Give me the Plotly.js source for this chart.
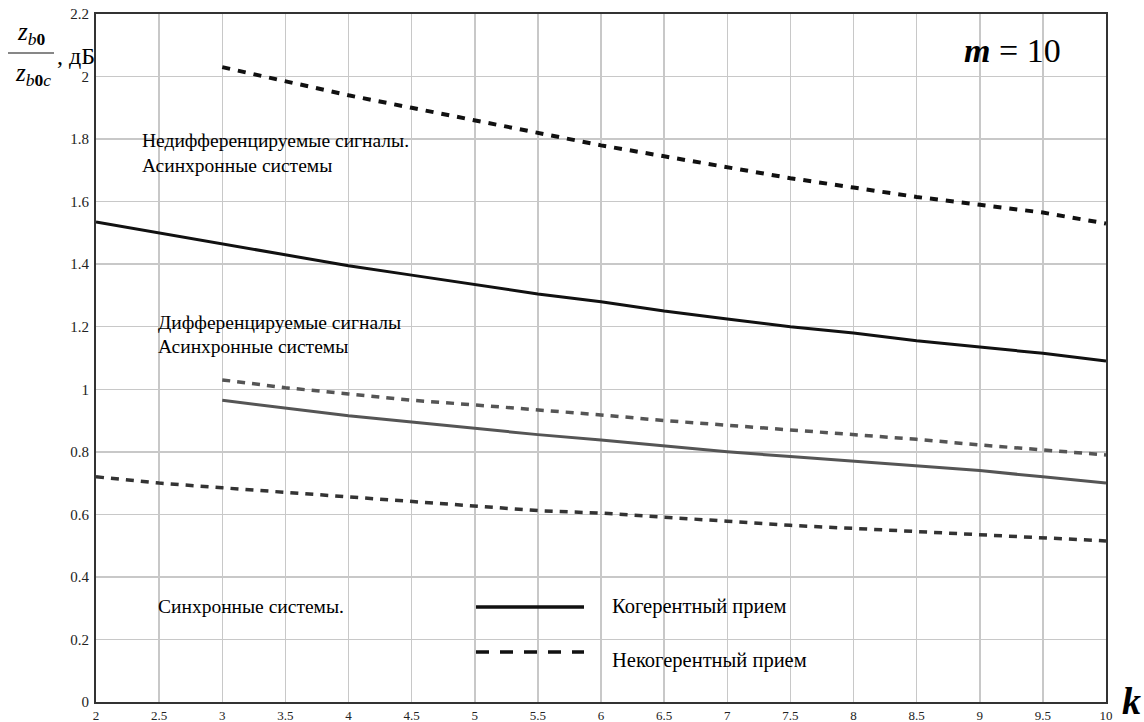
<!DOCTYPE html>
<html>
<head>
<meta charset="utf-8">
<script src="https://cdn.plot.ly/plotly-3.0.1.min.js"></script>
<style>html,body{margin:0;padding:0;background:#fff;}#chart{width:1144px;height:722px;}</style>
</head>
<body>
<div id="chart"></div>
<script>
// ---- data ----
const kFull = [2, 2.5, 3, 3.5, 4, 4.5, 5, 5.5, 6, 6.5, 7, 7.5, 8, 8.5, 9, 9.5, 10];
const kFrom3 = [3, 3.5, 4, 4.5, 5, 5.5, 6, 6.5, 7, 7.5, 8, 8.5, 9, 9.5, 10];

// Недифференцируемые сигналы, асинхронные системы
const nonDiffCoherent   = [1.535, 1.50, 1.465, 1.43, 1.395, 1.365, 1.335, 1.305, 1.28, 1.25, 1.225, 1.20, 1.18, 1.155, 1.135, 1.115, 1.09];
const nonDiffIncoherent = [2.03, 1.985, 1.94, 1.90, 1.86, 1.82, 1.78, 1.745, 1.71, 1.675, 1.645, 1.615, 1.59, 1.565, 1.53];
// Дифференцируемые сигналы, асинхронные системы
const diffCoherent      = [0.965, 0.94, 0.915, 0.895, 0.875, 0.855, 0.838, 0.82, 0.80, 0.785, 0.77, 0.755, 0.74, 0.72, 0.70];
const diffIncoherent    = [1.03, 1.005, 0.985, 0.965, 0.95, 0.935, 0.918, 0.90, 0.885, 0.87, 0.855, 0.84, 0.822, 0.806, 0.79];
// Синхронные системы
const syncIncoherent    = [0.72, 0.70, 0.685, 0.67, 0.655, 0.64, 0.625, 0.612, 0.604, 0.59, 0.578, 0.565, 0.555, 0.545, 0.537, 0.527, 0.515];

const xTickVals = [2, 2.5, 3, 3.5, 4, 4.5, 5, 5.5, 6, 6.5, 7, 7.5, 8, 8.5, 9, 9.5, 10];
const xTickText = ["2", "2.5", "3", "3.5", "4", "4.5", "5", "5.5", "6", "6.5", "7", "7.5", "8", "8.5", "9", "9.5", "10"];
const yTickVals = [0, 0.2, 0.4, 0.6, 0.8, 1, 1.2, 1.4, 1.6, 1.8, 2, 2.2];
const yTickText = ["0", "0.2", "0.4", "0.6", "0.8", "1", "1.2", "1.4", "1.6", "1.8", "2", "2.2"];

// ---- layout helpers (pixel -> paper) ----
const L = 96, R = 1106, T = 14, B = 702;
const px = x => (x - L) / (R - L);
const py = y => (B - y) / (B - T);
const serif = "'Liberation Serif', 'DejaVu Serif', serif";

const traces = [
  {x: kFull, y: nonDiffCoherent, mode: 'lines', line: {color: '#111', width: 3}},
  {x: kFrom3, y: nonDiffIncoherent, mode: 'lines', line: {color: '#111', width: 4, dash: '8px,8px'}},
  {x: kFrom3, y: diffCoherent, mode: 'lines', line: {color: '#555', width: 3}},
  {x: kFrom3, y: diffIncoherent, mode: 'lines', line: {color: '#555', width: 3.5, dash: '8px,7px'}},
  {x: kFull, y: syncIncoherent, mode: 'lines', line: {color: '#333', width: 3.5, dash: '8px,7px'}}
];

function txt(text, x, y, size, xanchor, opts) {
  return Object.assign({
    text: text, xref: 'paper', yref: 'paper', x: px(x), y: py(y),
    xanchor: xanchor || 'left', yanchor: 'middle', showarrow: false,
    font: {family: serif, size: size, color: '#000'}
  }, opts || {});
}

const annotations = [
  txt('Недифференцируемые сигналы.', 140, 140, 19.5),
  txt('Асинхронные системы', 140, 166, 19.5),
  txt('Дифференцируемые сигналы', 156, 322, 19.5),
  txt('Асинхронные системы', 156, 346, 19.5),
  txt('Синхронные системы.', 156, 606, 19.5),
  txt('Когерентный прием', 610, 606, 20.5),
  txt('Некогерентный прием', 610, 660, 20.5),
  txt('<b><i>m</i></b> = 10', 1012, 51, 34, 'center'),
  txt('<b><i>k</i></b>', 1131, 701, 38, 'center'),
  txt('<i>z</i><sub><i>b</i><b>0</b></sub>', 31, 33, 25, 'center'),
  txt('<i>z</i><sub><i>b</i><b>0</b><i>c</i></sub>', 33, 74, 25, 'center'),
  txt(', дБ', 55, 56, 24, 'left')
];

const shapes = [
  {type: 'rect', xref: 'paper', yref: 'paper', x0: px(603), x1: px(900), y0: py(683), y1: py(590),
   fillcolor: '#fff', line: {width: 0}, layer: 'between'},
  {type: 'line', xref: 'paper', yref: 'paper', x0: px(476), x1: px(584), y0: py(607), y1: py(607),
   line: {color: '#111', width: 3.5}},
  {type: 'line', xref: 'paper', yref: 'paper', x0: px(476), x1: px(584), y0: py(652), y1: py(652),
   line: {color: '#111', width: 3.5, dash: '13px,11px'}},
  {type: 'line', xref: 'paper', yref: 'paper', x0: px(8), x1: px(54), y0: py(53), y1: py(53),
   line: {color: '#111', width: 1.2}}
];

const axisCommon = {
  showline: true, linecolor: '#333', linewidth: 2, mirror: true,
  showgrid: true, gridcolor: '#c8c8c8', gridwidth: 1.5,
  zeroline: false, ticks: '', tickmode: 'array'
};

const layout = {
  width: 1144, height: 722,
  margin: {l: L, r: 1144 - R, t: T, b: 722 - B, pad: 0},
  paper_bgcolor: '#fff', plot_bgcolor: '#fff',
  showlegend: false,
  font: {family: serif},
  xaxis: Object.assign({}, axisCommon, {range: [2, 10], tickvals: xTickVals, ticktext: xTickText, ticklabelstandoff: 0,
    tickfont: {family: serif, size: 13, color: '#222'}}),
  yaxis: Object.assign({}, axisCommon, {range: [0, 2.2], tickvals: yTickVals, ticktext: yTickText, ticklabelstandoff: 2,
    tickfont: {family: serif, size: 15, color: '#222'}}),
  annotations: annotations,
  shapes: shapes
};

Plotly.newPlot('chart', traces, layout, {displayModeBar: false, staticPlot: true});
</script>
</body>
</html>
